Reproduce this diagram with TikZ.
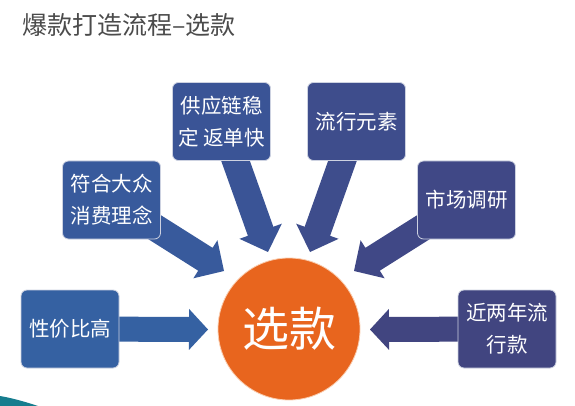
\documentclass[tikz,border=0pt]{standalone}
\usepackage{fontspec}
\newfontfamily\cjk{Noto Sans CJK SC}
\usetikzlibrary{calc,backgrounds}
\definecolor{titlegrey}{RGB}{75,75,75}
\definecolor{boxline}{RGB}{205,210,225}
\definecolor{orangec}{RGB}{232,101,30}
\definecolor{circline}{RGB}{250,205,175}
\definecolor{cA}{RGB}{53,97,162}
\definecolor{cB}{RGB}{56,90,156}
\definecolor{cC}{RGB}{58,84,150}
\definecolor{cD}{RGB}{62,77,140}
\definecolor{cE}{RGB}{64,72,134}
\definecolor{cF}{RGB}{65,69,128}
\definecolor{swoosh}{RGB}{22,125,142}
% #1 start, #2 tip, #3 colour, #4 shaft half width, #5 head half width, #6 head length
\newcommand\blockarrow[6]{%
  \coordinate (B) at ($(#2)!#6!(#1)$);
  \fill[#3] ($(#1)!#4!90:(#2)$) -- ($(B)!#4!-90:(#1)$) -- ($(B)!#5!-90:(#1)$)
    -- (#2) -- ($(B)!#5!90:(#1)$) -- ($(B)!#4!90:(#1)$) -- ($(#1)!#4!-90:(#2)$) -- cycle;
}
\begin{document}
\begin{tikzpicture}[x=1pt,y=-1pt,
  box/.style={draw=boxline, line width=0.8pt, rounded corners=6pt,
    minimum width=98pt, minimum height=78pt, inner sep=0pt, text=white,
    font=\cjk\fontsize{20.5}{32}\selectfont, align=center},
  hub/.style={circle, fill=orangec, draw=circline, line width=0.8pt,
    minimum size=142pt, inner sep=0pt, text=white, font=\cjk\fontsize{47}{50}\selectfont}]
\useasboundingbox (0,0) rectangle (575,406);
\node[anchor=west, text=titlegrey, font=\cjk\fontsize{25}{27}\selectfont, inner sep=0pt] (title) at (22,25) {爆款打造流程–选款};
\node[hub] (c) at (289,329) {选款};
\node[box, fill=cA] (b1) at (70,329) {性价比高};
\node[box, fill=cB] (b2) at (111.5,200) {符合大众\\消费理念};
\node[box, fill=cC] (b3) at (221.5,121.5) {供应链稳\\定 返单快};
\node[box, fill=cD] (b4) at (356.5,121.5) {流行元素};
\node[box, fill=cE] (b5) at (466.5,200) {市场调研};
\node[box, fill=cF] (b6) at (507,329) {近两年流\\行款};
\coordinate (t1) at (208,329.5);
\coordinate (t2) at (224,271);
\coordinate (t3) at (268,252);
\coordinate (t4) at (310,252);
\coordinate (t5) at (354,271);
\coordinate (t6) at (370,329.5);
\begin{scope}[on background layer]
\fill[white] (0,0) rectangle (575,406);
\blockarrow{b1.center}{t1}{cA}{12.5pt}{20.5pt}{19pt}
\blockarrow{b2.center}{t2}{cB}{13.5pt}{22.5pt}{22pt}
\blockarrow{b3.center}{t3}{cC}{13.5pt}{22.5pt}{22pt}
\blockarrow{b4.center}{t4}{cD}{13.5pt}{22.5pt}{22pt}
\blockarrow{b5.center}{t5}{cE}{13.5pt}{22.5pt}{22pt}
\blockarrow{b6.center}{t6}{cF}{12.5pt}{20.5pt}{19pt}
\end{scope}
\fill[swoosh] (0,396) .. controls (12,398) and (26,402) .. (38,406) -- (0,406) -- cycle;
\end{tikzpicture}
\end{document}
